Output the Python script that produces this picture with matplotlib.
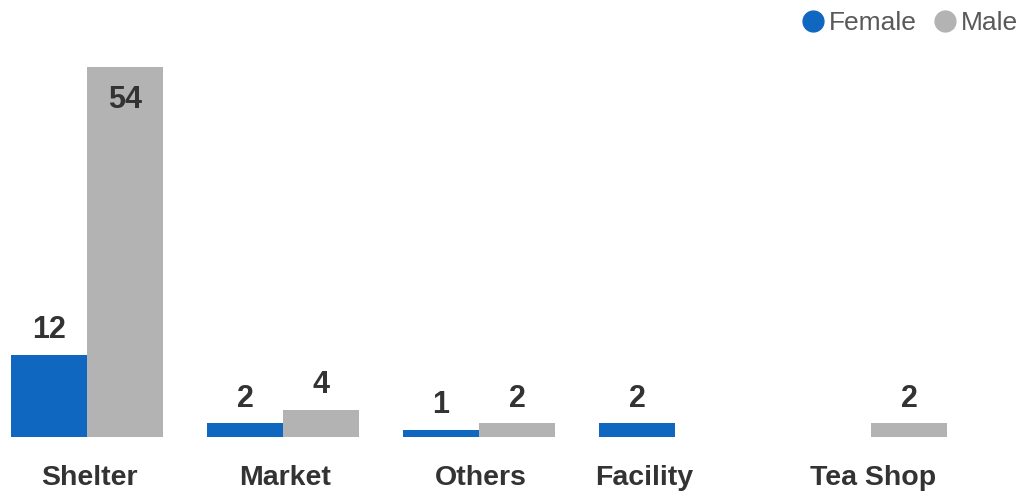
import matplotlib.pyplot as plt
import matplotlib.transforms as mtransforms
from matplotlib.lines import Line2D
import numpy as np

plt.rcParams['font.family'] = ['Liberation Sans', 'DejaVu Sans']

categories = ["Shelter", "Market", "Others", "Facility", "Tea Shop"]
female = [12, 2, 1, 2, None]
male = [54, 4, 2, None, 2]

blue = "#1067C0"
grey = "#B3B3B3"
dark = "#333333"

fig = plt.figure(figsize=[10.19, 4.95], dpi=100)
ax = fig.add_axes([0, 58 / 495, 1, 437 / 495])

x = np.arange(len(categories))
w = 0.388
ytop = 63.8

def draw(vals, off, color):
    for i, v in enumerate(vals):
        if v is None:
            continue
        ax.bar(x[i] + off, v, width=w, color=color, linewidth=0)
        # labels that would not fit above the bar go inside it
        dy = 12 if v < ytop * 0.8 else -29.5
        ax.annotate(str(v), (x[i] + off, v), xytext=(0, dy), textcoords="offset points",
                    ha="center", va="baseline", fontsize=22, fontweight="bold", color=dark)

draw(female, -w / 2, blue)
draw(male, w / 2, grey)

ax.set_xlim(-0.444, 4.755)
ax.set_ylim(0, ytop)
ax.axis("off")

# category labels under the bars ("Facility" sits a bit left in the original)
shift = {"Facility": -24}
trans = mtransforms.blended_transform_factory(ax.transData, ax.transAxes)
for i, c in enumerate(categories):
    ax.annotate(c, (x[i], 0), xycoords=trans, xytext=(shift.get(c, 0) + 1.5, -34.5),
                textcoords="offset points", ha="center", va="baseline",
                fontsize=20.5, fontweight="bold", color=dark, annotation_clip=False)

# legend
handles = [Line2D([], [], marker="o", ls="", color=blue, markersize=15),
           Line2D([], [], marker="o", ls="", color=grey, markersize=15)]
fig.legend(handles, ["Female", "Male"], loc="upper right", bbox_to_anchor=(1.022, 1.025),
           ncol=2, frameon=False, fontsize=19, labelcolor="#595959",
           handletextpad=0.0, columnspacing=0.45, handlelength=1.2)

fig.savefig("out.png", dpi=100)
